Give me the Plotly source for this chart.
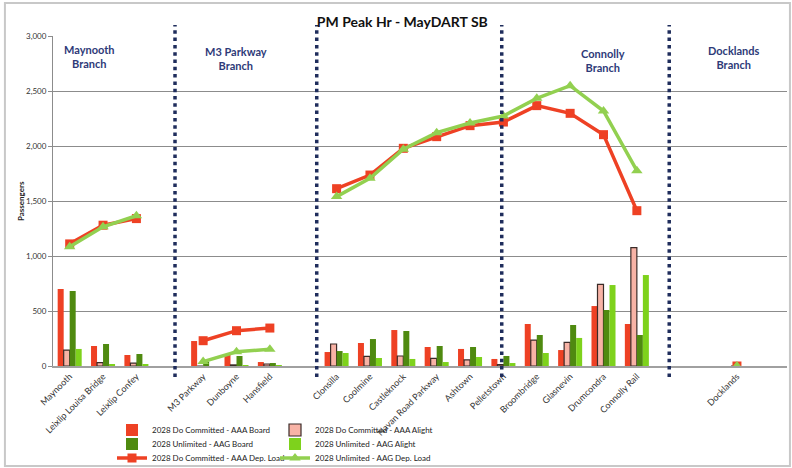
import plotly.graph_objects as go

stations = ["Maynooth", "Leixlip Louisa Bridge", "Leixlip Confey", "",
            "M3 Parkway", "Dunboyne", "Hansfield", "",
            "Clonsilla", "Coolmine", "Castleknock", "Navan Road Parkway", "Ashtown",
            "Pelletstown", "Broombridge", "Glasnevin", "Drumcondra", "Connolly Rail",
            "", "", "Docklands", ""]

dc_board = [700, 182, 100, None, 227, 103, 36, None, 127, 209, 327, 173, 155, 64, 382, 145, 545, 382, None, None, 0, None]
dc_alight = [145, 30, 27, None, 0, 10, 18, None, 200, 88, 91, 70, 55, 12, 236, 215, 742, 1076, None, None, 0, None]
ul_board = [682, 200, 109, None, 40, 91, 27, None, 136, 245, 318, 182, 173, 91, 282, 373, 509, 282, None, None, 0, None]
ul_alight = [155, 18, 18, None, 0, 5, 5, None, 118, 73, 64, 36, 82, 27, 118, 255, 736, 827, None, None, 0, None]
dc_load = [1110, 1280, 1340, None, 230, 321, 345, None, 1612, 1736, 1979, 2085, 2185, 2218, 2367, 2297, 2103, 1412, None, None, 0, None]
ul_load = [1085, 1265, 1366, None, 40, 130, 152, None, 1540, 1706, 1970, 2121, 2209, 2273, 2433, 2548, 2318, 1776, None, None, 0, None]

branch_labels = ["Maynooth<br>Branch", "M3 Parkway<br>Branch", "Connolly<br>Branch", "Docklands<br>Branch"]
branch_x = [0.6, 4.99, 15.98, 19.9]
branch_y = [2815, 2800, 2775, 2805]
divider_x = [3.157, 7.405, 12.95, 17.97]

y_ticks = [0, 500, 1000, 1500, 2000, 2500, 3000]

FONT = "Lato"
RED = "#EE4124"
PINK = "#F8B3A6"
DGREEN = "#4F8A10"
LGREEN = "#7ED21C"
LINEGREEN = "#92D050"
NAVY = "#1F2D5C"

x = list(range(len(stations)))
tickvals = [i for i, s in enumerate(stations) if s]
ticktext = [s for s in stations if s]

fig = go.Figure()
fig.add_bar(x=x, y=dc_board, name="2028 Do Committed - AAA Board",
            marker=dict(color=RED, line=dict(width=0)), legend="legend")
fig.add_bar(x=x, y=dc_alight, name="2028 Do Committed - AAA Alight",
            marker=dict(color=PINK, line=dict(width=1.2, color="#3A2B28")), legend="legend")
fig.add_bar(x=x, y=ul_board, name="2028 Unlimited - AAG Board",
            marker=dict(color=DGREEN, line=dict(width=0)), legend="legend2")
fig.add_bar(x=x, y=ul_alight, name="2028 Unlimited - AAG Alight",
            marker=dict(color=LGREEN, line=dict(width=0)), legend="legend2")
fig.add_scatter(x=x, y=dc_load, name="2028 Do Committed - AAA Dep. Load", mode="lines+markers",
                line=dict(color=RED, width=3.5), marker=dict(symbol="square", size=9, color=RED),
                legend="legend3", connectgaps=False)
fig.add_scatter(x=x, y=ul_load, name="2028 Unlimited - AAG Dep. Load", mode="lines+markers",
                line=dict(color=LINEGREEN, width=3.5), marker=dict(symbol="triangle-up", size=10, color=LINEGREEN),
                legend="legend3", connectgaps=False)

shapes = []
for dx in divider_x:
    shapes.append(dict(type="line", xref="x", yref="paper", x0=dx, x1=dx, y0=-0.033, y1=1.033,
                       line=dict(color=NAVY, width=3.5, dash="3.5px,3.8px"), layer="above"))
shapes.append(dict(type="rect", xref="paper", yref="paper", x0=-0.0655, x1=1.004, y0=-0.303, y1=1.1,
                   line=dict(color="#C8C8C8", width=2), layer="below"))

annotations = []
for t, bx, by in zip(branch_labels, branch_x, branch_y):
    annotations.append(dict(text="<b>" + t + "</b>", x=bx, y=by, xref="x", yref="y", showarrow=False,
                            font=dict(family=FONT, size=11, color="#2E3A78"), align="center"))
annotations.append(dict(text="<b>Passengers</b>", x=-0.053, y=0.5, xref="paper", yref="paper",
                        showarrow=False, textangle=-90, font=dict(family=FONT, size=8, color="#222")))

leg_common = dict(orientation="h", xref="container", yref="container", xanchor="left", yanchor="middle",
                  entrywidth=118, font=dict(family=FONT, size=8, color="#222"), bgcolor="rgba(0,0,0,0)",
                  itemwidth=30, tracegroupgap=0, traceorder="normal")
lx = 112 / 792
fig.update_layout(
    width=792, height=468,
    margin=dict(l=53, r=5, t=36, b=102, autoexpand=False),
    paper_bgcolor="white", plot_bgcolor="white",
    title=dict(text="<b>PM Peak Hr - MayDART SB</b>", x=0.508, xanchor="center", y=1 - 22 / 468,
               yanchor="middle", font=dict(family=FONT, size=14, color="#111")),
    barmode="group", bargap=0.28, bargroupgap=0,
    xaxis=dict(range=[-0.5, len(stations) - 0.5], tickmode="array", tickvals=tickvals, ticktext=ticktext,
               tickangle=-45, tickfont=dict(family=FONT, size=9, color="#333"), showgrid=False,
               showline=True, linecolor="#A0A0A0", linewidth=1.5, ticks="", zeroline=False, automargin=False),
    yaxis=dict(range=[0, 3000], tickvals=y_ticks, tickformat=",", tickfont=dict(family=FONT, size=8, color="#333"),
               showgrid=True, gridcolor="#8C8C8C", gridwidth=1, showline=True, linecolor="#8C8C8C",
               ticks="outside", ticklen=4, tickcolor="#8C8C8C", zeroline=False, automargin=False),
    legend=dict(x=lx, y=1 - 430 / 468, **leg_common),
    legend2=dict(x=lx, y=1 - 444 / 468, **leg_common),
    legend3=dict(x=lx, y=1 - 458 / 468, **leg_common),
    shapes=shapes, annotations=annotations, showlegend=True,
)

fig.write_html("out.html", config={"displayModeBar": False},
               post_script="document.body.style.margin='0px';document.body.style.overflow='hidden';")
